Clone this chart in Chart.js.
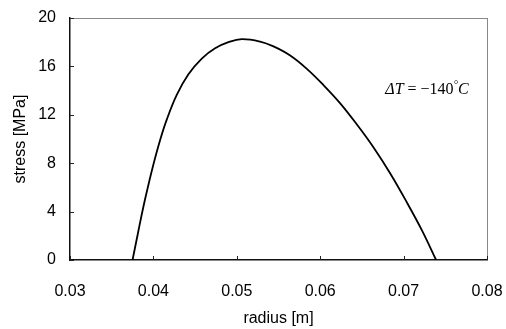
<!DOCTYPE html>
<html>
<head>
<meta charset="utf-8">
<script src="https://cdn.jsdelivr.net/npm/chart.js@4.4.0/dist/chart.umd.min.js"></script>
<style>
  html, body { margin: 0; padding: 0; background: #fff; }
  #wrap { width: 506px; height: 329px; }
</style>
</head>
<body>
<div id="wrap"><canvas id="myChart" width="506" height="329"></canvas></div>
<script>
// values
const radius = [0.0375, 0.0382, 0.0388, 0.0394, 0.0400, 0.0408, 0.0416, 0.0428, 0.0442, 0.0458, 0.0474, 0.0490, 0.0506, 0.0528, 0.0544, 0.0564, 0.0584, 0.0604, 0.0624, 0.0644, 0.0664, 0.0684, 0.0704, 0.0722, 0.0739];
const stress = [0, 2.4, 4.4, 6.2, 7.9, 9.9, 11.6, 13.65, 15.35, 16.65, 17.5, 18.0, 18.25, 18.05, 17.65, 16.9, 15.8, 14.45, 12.95, 11.2, 9.3, 7.15, 4.75, 2.45, 0];
const xTicks = [0.03, 0.04, 0.05, 0.06, 0.07, 0.08];
const yTicks = [0, 4, 8, 12, 16, 20];
const noteText = ["\u0394T", " = \u2212140", "\u00b0", "C"];

const points = radius.map((r, i) => ({x: r, y: stress[i]}));
const tickFont = {family: "'Liberation Sans', Arial, sans-serif", size: 16};

// small ticks pointing into the plot, and the temperature note
const innerTicks = {
  id: 'innerTicks',
  afterDraw(chart) {
    const ctx = chart.ctx;
    const xs = chart.scales.x, ys = chart.scales.y;
    const a = chart.chartArea;
    ctx.save();
    ctx.strokeStyle = '#222';
    ctx.lineWidth = 1;
    yTicks.forEach(v => {
      const y = Math.round(ys.getPixelForValue(v)) + 0.5;
      ctx.beginPath(); ctx.moveTo(a.left, y); ctx.lineTo(a.left + 4, y); ctx.stroke();
    });
    xTicks.forEach(v => {
      const x = Math.round(xs.getPixelForValue(v)) + 0.5;
      ctx.beginPath(); ctx.moveTo(x, a.bottom); ctx.lineTo(x, a.bottom - 4); ctx.stroke();
    });
    // ΔT = -140°C
    let x = xs.getPixelForValue(0.0678);
    const y = ys.getPixelForValue(14.05);
    ctx.fillStyle = '#000';
    ctx.textBaseline = 'middle';
    const styles = ["italic 16px 'Liberation Serif'", "16px 'Liberation Serif'", "italic 11px 'Liberation Serif'", "italic 16px 'Liberation Serif'"];
    noteText.forEach((t, i) => {
      ctx.font = styles[i];
      ctx.fillText(t, x, i === 2 ? y - 5 : y);
      x += ctx.measureText(t).width;
    });
    ctx.restore();
  }
};

new Chart("myChart", {
  type: "scatter",
  data: {
    datasets: [{
      data: points,
      showLine: true,
      borderColor: "#000",
      borderWidth: 1.8,
      pointRadius: 0,
      tension: 0.4,
      fill: false
    }]
  },
  options: {
    responsive: false,
    animation: false,
    layout: {padding: 0},
    plugins: {legend: {display: false}, tooltip: {enabled: false}},
    scales: {
      x: {
        type: 'linear', position: 'bottom', min: 0.03, max: 0.08,
        afterBuildTicks: s => { s.ticks = xTicks.map(v => ({value: v})); },
        afterFit: s => { s.height = 69; s.paddingLeft = 0; s.paddingRight = 0; },
        ticks: {color: '#000', font: tickFont, padding: 22, maxRotation: 0,
                callback: v => v.toFixed(2)},
        grid: {display: true, drawOnChartArea: false, drawTicks: false},
        border: {color: '#111', width: 1.5},
        title: {display: true, text: 'radius [m]', color: '#000', font: tickFont,
                padding: {top: 0, bottom: 1}}
      },
      y: {
        type: 'linear', position: 'left', min: 0, max: 20,
        afterBuildTicks: s => { s.ticks = yTicks.map(v => ({value: v})); },
        afterFit: s => { s.width = 70; s.paddingTop = 0; s.paddingBottom = 0; },
        ticks: {color: '#000', font: tickFont, padding: 14},
        grid: {display: true, drawOnChartArea: false, drawTicks: false},
        border: {color: '#111', width: 1.5},
        title: {display: true, text: 'stress [MPa]', color: '#000', font: tickFont,
                padding: {top: 11, bottom: 0}}
      },
      x2: {
        type: 'linear', position: 'top', min: 0.03, max: 0.08,
        afterFit: s => { s.height = 18; s.paddingLeft = 0; s.paddingRight = 0; },
        ticks: {display: false},
        grid: {display: false, drawTicks: false},
        border: {color: '#888', width: 1, dash: [2, 1]}
      },
      y2: {
        type: 'linear', position: 'right', min: 0, max: 20,
        afterFit: s => { s.width = 19; s.paddingTop = 0; s.paddingBottom = 0; },
        ticks: {display: false},
        grid: {display: false, drawTicks: false},
        border: {color: '#888', width: 1, dash: [2, 1]}
      }
    }
  },
  plugins: [innerTicks]
});
</script>
</body>
</html>
